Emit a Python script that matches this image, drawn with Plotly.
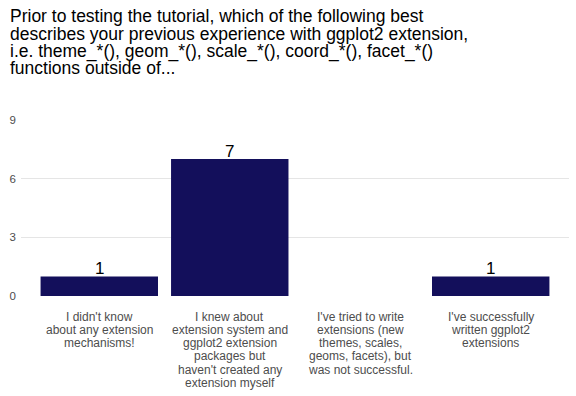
import plotly.graph_objects as go

title_lines = [
    "Prior to testing the tutorial, which of the following best",
    "describes your previous experience with ggplot2 extension,",
    "i.e. theme_*(), geom_*(), scale_*(), coord_*(), facet_*()",
    "functions outside of...",
]
categories = [
    "I didn't know<br>about any extension<br>mechanisms!",
    "I knew about<br>extension system and<br>ggplot2 extension<br>packages but<br>haven't created any<br>extension myself",
    "I've tried to write<br>extensions (new<br>themes, scales,<br>geoms, facets), but<br>was not successful.",
    "I've successfully<br>written ggplot2<br>extensions",
]
counts = [1, 7, 0, 1]
y_ticks = [0, 3, 6, 9]

FONT = "Liberation Sans, Arial, sans-serif"
xs = list(range(len(categories)))

L, R, T, B = 20.7, 568.8, 120, 296
H = B - T

def ypaper(py):
    return (B - py) / H

fig = go.Figure()
fig.add_trace(go.Bar(x=xs, y=counts, marker=dict(color="#130f5b", line=dict(width=0)),
                     width=0.9, hoverinfo="skip"))

annotations = []
for x, c in zip(xs, counts):
    if c > 0:
        annotations.append(dict(x=x, y=c, xref="x", yref="y", text=str(c), showarrow=False,
                                yanchor="bottom", yshift=-4,
                                font=dict(family=FONT, size=17, color="black")))

# title, one annotation per line (tight ggplot line spacing)
for i, line in enumerate(title_lines):
    annotations.append(dict(x=(8 - L) / (R - L), xref="paper", y=ypaper(16.5 + 17.3 * i),
                            yref="paper", text=line, showarrow=False,
                            xanchor="left", yanchor="middle",
                            font=dict(family=FONT, size=17.5, color="black")))

# category labels, one annotation per line
for x, cat in zip(xs, categories):
    for k, part in enumerate(cat.split("<br>")):
        annotations.append(dict(x=x, xref="x", y=ypaper(316.8 + 13.2 * k), yref="paper",
                                text=part, showarrow=False, xanchor="center", yanchor="middle",
                                font=dict(family=FONT, size=12, color="#4d4d4d")))

fig.update_layout(
    width=576, height=396,
    margin=dict(l=L, r=576 - R, t=T, b=396 - B, pad=0),
    plot_bgcolor="white", paper_bgcolor="white",
    showlegend=False,
    bargap=0.1,
    annotations=annotations,
    xaxis=dict(range=[-0.6, 3.6], tickmode="array", tickvals=xs, showticklabels=False,
               showgrid=False, zeroline=False, showline=False, ticks="", automargin=False),
    yaxis=dict(range=[0, 9], tickmode="array", tickvals=y_ticks,
               ticktext=[str(t) for t in y_ticks], automargin=False,
               showgrid=True, gridcolor="#e5e5e5", gridwidth=1, zeroline=False,
               showline=False, ticks="", ticklabelstandoff=4,
               tickfont=dict(family=FONT, size=11.5, color="#4d4d4d")),
)
fig.write_html("out.html", config={"displayModeBar": False},
               post_script="document.body.style.margin='0';document.body.style.overflow='hidden';")
